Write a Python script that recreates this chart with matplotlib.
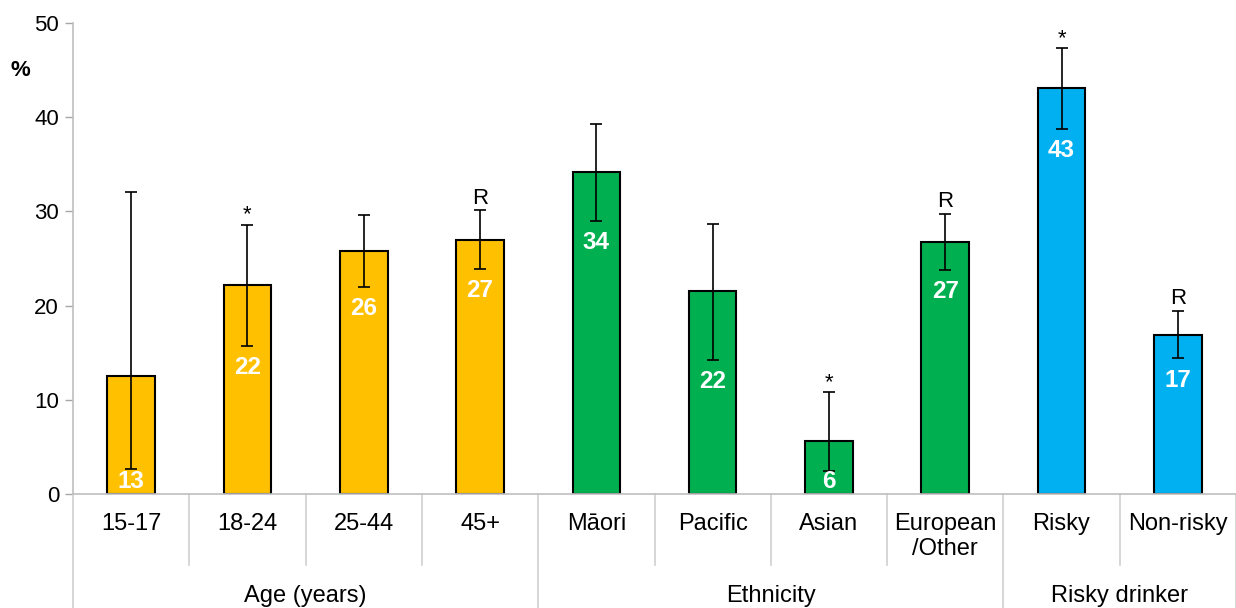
import matplotlib.pyplot as plt
import numpy as np

plt.rcParams['font.family'] = ['Liberation Sans', 'DejaVu Sans']

# Data
categories = ['15-17', '18-24', '25-44', '45+', 'Māori', 'Pacific', 'Asian',
              'European\n/Other', 'Risky', 'Non-risky']
values = [12.5, 22.2, 25.8, 27.0, 34.2, 21.5, 5.6, 26.7, 43.1, 16.9]
labels = ['13', '22', '26', '27', '34', '22', '6', '27', '43', '17']
ci_low = [2.7, 15.7, 22.0, 23.9, 29.0, 14.2, 2.4, 23.8, 38.8, 14.4]
ci_high = [32.1, 28.6, 29.6, 30.1, 39.3, 28.7, 10.8, 29.7, 47.3, 19.4]
marks = ['', '*', '', 'R', '', '', '*', 'R', '*', 'R']
groups = ['Age (years)', 'Ethnicity', 'Risky drinker']
group_sizes = [4, 4, 2]
group_colors = ['#FFC000', '#00B050', '#00B0F0']

colors = []
for c, n in zip(group_colors, group_sizes):
    colors += [c] * n

fig = plt.figure(figsize=(12.36, 6.08), dpi=100)
ax = fig.add_axes([73 / 1236, 1 - 494 / 608, (1236 - 73) / 1236, 471 / 608])

x = np.arange(len(categories))
vals = np.array(values)
err = [vals - np.array(ci_low), np.array(ci_high) - vals]
ax.bar(x, vals, width=0.41, color=colors, edgecolor='black', linewidth=1.5, zorder=2)
ax.errorbar(x, vals, yerr=err, fmt='none', ecolor='black', elinewidth=1.2,
            capsize=4.5, capthick=1.2, zorder=3)

for i in range(len(x)):
    ly = max(ci_low[i] - 2.3, 1.3)
    ax.text(x[i], ly, labels[i], ha='center', va='center', color='white',
            fontsize=17.5, fontweight='bold', zorder=4)
    if marks[i] == '*':
        ax.text(x[i], ci_high[i] - 0.1, '*', ha='center', va='bottom', fontsize=16, zorder=4)
    elif marks[i] == 'R':
        ax.text(x[i], ci_high[i] + 0.2, 'R', ha='center', va='bottom', fontsize=16, zorder=4)

ax.set_xlim(-0.5, len(categories) - 0.5)
ax.set_ylim(0, 50)
ax.set_yticks(range(0, 51, 10))
ax.tick_params(axis='y', labelsize=16, color='#A6A6A6', length=6, width=1, pad=4)
ax.set_xticks([])
for s in ['top', 'right']:
    ax.spines[s].set_visible(False)
for s in ['left', 'bottom']:
    ax.spines[s].set_color('#BFBFBF')
    ax.spines[s].set_linewidth(1.2)

ax.text(-0.045, 0.9, '%', transform=ax.transAxes, fontsize=16, fontweight='bold',
        ha='center', va='center')

# Two-level category axis drawn below the plot
trans = ax.get_xaxis_transform()
for i, cat in enumerate(categories):
    ax.text(x[i], -0.04, cat, transform=trans, ha='center', va='top', fontsize=17,
            linespacing=1.2)
boundaries = np.cumsum([0] + group_sizes)
for b in range(len(categories) + 1):
    pos = b - 0.5
    if b in boundaries:
        bottom = -0.25
    else:
        bottom = -0.15
    ax.plot([pos, pos], [0, bottom], transform=trans, color='#D0D0D0', lw=1.2,
            clip_on=False)
for g, start, n in zip(groups, boundaries[:-1], group_sizes):
    ax.text(start + (n - 1) / 2, -0.193, g, transform=trans, ha='center', va='top',
            fontsize=17)

fig.savefig('out.png', dpi=100)
